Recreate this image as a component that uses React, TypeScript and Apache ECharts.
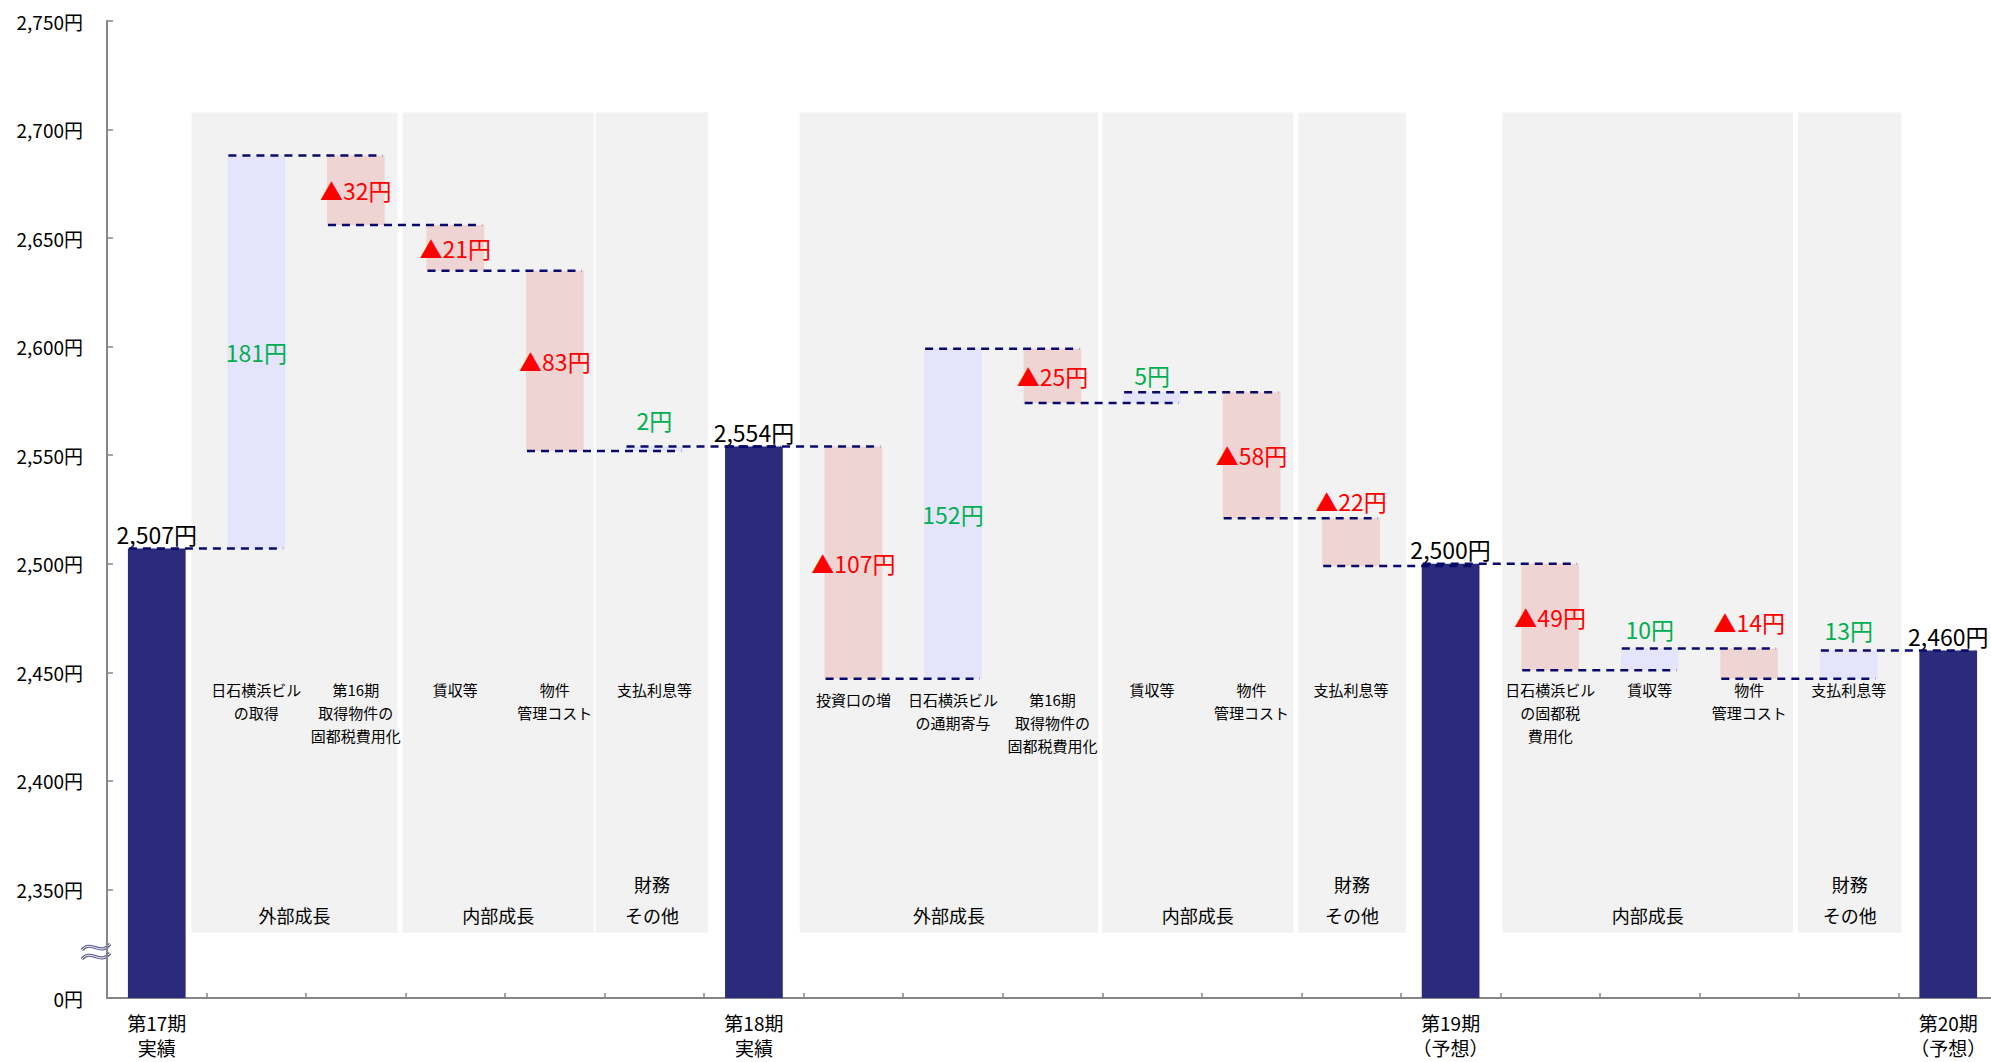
import React, { useEffect, useRef } from 'react';
import * as echarts from 'echarts';

// ---- data -------------------------------------------------------------
const categories = [
  '第17期\n実績', '', '', '', '', '',
  '第18期\n実績', '', '', '', '', '', '',
  '第19期\n（予想）', '', '', '', '',
  '第20期\n（予想）',
];

const itemNames = [
  '', '日石横浜ビル\nの取得', '第16期\n取得物件の\n固都税費用化', '賃収等', '物件\n管理コスト', '支払利息等',
  '', '投資口の増', '日石横浜ビル\nの通期寄与', '第16期\n取得物件の\n固都税費用化', '賃収等', '物件\n管理コスト', '支払利息等',
  '', '日石横浜ビル\nの固都税\n費用化', '賃収等', '物件\n管理コスト', '支払利息等',
  '',
];

// distribution per unit (period totals)
const totals: (number | null)[] = [
  2507, null, null, null, null, null,
  2554, null, null, null, null, null, null,
  2500, null, null, null, null,
  2460,
];

// change factors between periods (negative = decrease)
const deltas: (number | null)[] = [
  null, 181, -32, -21, -83, 2,
  null, -107, 152, -25, 5, -58, -22,
  null, -49, 10, -14, 13,
  null,
];

const groupNames = ['外部成長', '内部成長', '財務\nその他', '外部成長', '内部成長', '財務\nその他', '内部成長', '財務\nその他'];
const groupFirst = [1, 3, 5, 7, 10, 12, 14, 17];
const groupLast = [2, 4, 5, 9, 11, 12, 16, 17];

// axis: the lowest tick stands for 0円 (broken axis)
const AXIS_MIN = 2300;
const AXIS_MAX = 2750;
const AXIS_STEP = 50;

// ---- layout / style ---------------------------------------------------
const FONT = '"Noto Sans CJK JP", "Noto Sans", sans-serif';
const BAR_FRACTION = 0.58;
const panelStartOffset = [-0.15, -0.03, -0.09, -0.04, 0.0, -0.03, 0.02, -0.01];
const panelEndOffset = [-0.08, -0.11, 0.04, -0.04, -0.08, 0.05, -0.06, 0.03];
const PANEL_TOP_LEVEL = 2707.8;
const PANEL_BOTTOM_LEVEL = 2330;
const NAME_TOP_PX = 678;
const NAME_TOP_PX_LOW = 688;
// label placement per column: 0 = inside the bar, otherwise distance above it
const labelGap = [0, 0, 0, 0, 0, 15, 0, 0, 0, 0, 6, 0, 6, 0, 0, 8, 15, 9, 0];

const C_TOTAL = '#2B2A7B';
const C_RISE = '#E4E4FC';
const C_FALL = '#EFD4D4';
const C_PANEL = '#F2F2F2';
const C_DASH = '#0A0A6A';
const C_AXIS = '#868686';

// ---- derived waterfall geometry ---------------------------------------
const bases: (number | null)[] = [];
const levels: number[] = [];
{
  let level = 0;
  for (let i = 0; i < categories.length; i++) {
    const t = totals[i];
    if (t != null) {
      level = t;
      bases.push(null);
    } else {
      const d = deltas[i] as number;
      bases.push(Math.min(level, level + d));
      level += d;
    }
    levels.push(level);
  }
}

function deltaLabel(d: number, i: number) {
  const gap = labelGap[i];
  return {
    show: true,
    position: gap ? 'top' : 'inside',
    distance: gap || 5,
    formatter: d >= 0 ? `${d}円` : `▲${-d}円`,
    color: d >= 0 ? '#00B050' : '#FF0000',
    fontSize: 23,
    fontFamily: FONT,
    textBorderWidth: 0,
  };
}

const baseData = bases.map((b) => (b == null ? '-' : b));
const riseData = deltas.map((d, i) =>
  d != null && d > 0 ? { value: d, label: deltaLabel(d, i) } : '-'
);
const fallData = deltas.map((d, i) =>
  d != null && d < 0 ? { value: -d, label: deltaLabel(d, i) } : '-'
);
const totalData = totals.map((t) => (t == null ? '-' : t));

const connectorData = levels.slice(0, levels.length - 1).map((lv, i) => [i, lv]);
const panelData = groupFirst.map((f, i) => [f, groupLast[i], PANEL_TOP_LEVEL]);
const nameData = itemNames
  .map((n, i) => (n ? [i, AXIS_MIN] : null))
  .filter((v) => v != null) as number[][];

export default function App() {
  const ref = useRef<HTMLDivElement | null>(null);

  useEffect(() => {
    if (!ref.current) return;
    const chart = echarts.init(ref.current, undefined, { renderer: 'svg' });

    const option: any = {
      animation: false,
      textStyle: { fontFamily: FONT },
      grid: {
        left: 107,
        width: 1891,
        top: 21,
        bottom: 64,
        containLabel: false,
        outerBoundsMode: 'none',
      },
      xAxis: {
        type: 'category',
        data: categories,
        axisLine: { lineStyle: { color: C_AXIS, width: 2 } },
        axisTick: { show: true, inside: true, length: 5, interval: 0, lineStyle: { color: C_AXIS, width: 1.5 } },
        axisLabel: { interval: 0, fontSize: 19, lineHeight: 25, margin: 12, color: '#000', fontFamily: FONT },
      },
      yAxis: {
        type: 'value',
        min: AXIS_MIN,
        max: AXIS_MAX,
        interval: AXIS_STEP,
        splitLine: { show: false },
        axisLine: { show: true, lineStyle: { color: C_AXIS, width: 2 } },
        axisTick: { show: true, inside: true, length: 6, lineStyle: { color: C_AXIS, width: 1.5 } },
        axisLabel: {
          fontSize: 19,
          margin: 24,
          color: '#000',
          fontFamily: FONT,
          formatter: (v: number) => (v === AXIS_MIN ? '0円' : `${v.toLocaleString('en-US')}円`),
        },
      },
      graphic: [
        {
          type: 'group',
          z: 100,
          children: [0, 9].flatMap((dy) => [
            {
              type: 'bezierCurve',
              shape: { x1: 82, y1: 950 + dy, cpx1: 91, cpy1: 939 + dy, cpx2: 100, cpy2: 957 + dy, x2: 110, y2: 944 + dy },
              style: { stroke: '#5A5A92', lineWidth: 3.2, fill: null },
            },
            {
              type: 'bezierCurve',
              shape: { x1: 82, y1: 950 + dy, cpx1: 91, cpy1: 939 + dy, cpx2: 100, cpy2: 957 + dy, x2: 110, y2: 944 + dy },
              style: { stroke: '#FFFFFF', lineWidth: 1, fill: null },
            },
          ]),
        },
      ],
      series: [
        {
          type: 'custom',
          name: 'panels',
          z: 0,
          silent: true,
          data: panelData,
          encode: { x: [0, 1], y: 2 },
          renderItem: (params: any, api: any) => {
            const i = params.dataIndex;
            const band = api.size([1, 0])[0];
            const x0 = api.coord([api.value(0), PANEL_TOP_LEVEL])[0] - band / 2 + panelStartOffset[i] * band;
            const x1 = api.coord([api.value(1), PANEL_TOP_LEVEL])[0] + band / 2 + panelEndOffset[i] * band;
            const top = api.coord([0, PANEL_TOP_LEVEL])[1];
            const bottom = api.coord([0, PANEL_BOTTOM_LEVEL])[1];
            return {
              type: 'group',
              children: [
                {
                  type: 'rect',
                  shape: { x: x0, y: top, width: x1 - x0, height: bottom - top },
                  style: { fill: C_PANEL },
                },
                {
                  type: 'text',
                  x: (x0 + x1) / 2,
                  y: bottom - 2.5,
                  style: {
                    text: groupNames[i],
                    fill: '#000',
                    fontSize: 18,
                    fontFamily: FONT,
                    lineHeight: 31,
                    align: 'center',
                    verticalAlign: 'bottom',
                  },
                },
              ],
            };
          },
        },
        {
          type: 'bar',
          name: 'base',
          stack: 'w',
          barWidth: `${BAR_FRACTION * 100}%`,
          silent: true,
          itemStyle: { color: 'rgba(0,0,0,0)' },
          data: baseData,
        },
        {
          type: 'bar',
          name: 'rise',
          stack: 'w',
          barWidth: `${BAR_FRACTION * 100}%`,
          itemStyle: { color: C_RISE },
          data: riseData,
        },
        {
          type: 'bar',
          name: 'fall',
          stack: 'w',
          barWidth: `${BAR_FRACTION * 100}%`,
          itemStyle: { color: C_FALL },
          data: fallData,
        },
        {
          type: 'bar',
          name: 'total',
          stack: 'w',
          barWidth: `${BAR_FRACTION * 100}%`,
          itemStyle: { color: C_TOTAL },
          label: {
            show: true,
            position: 'top',
            distance: 3,
            color: '#000',
            fontSize: 23,
            fontFamily: FONT,
            formatter: (p: any) => `${Number(p.value).toLocaleString('en-US')}円`,
          },
          data: totalData,
        },
        {
          type: 'custom',
          name: 'connectors',
          z: 5,
          silent: true,
          data: connectorData,
          encode: { x: 0, y: 1 },
          renderItem: (params: any, api: any) => {
            const p = api.coord([api.value(0), api.value(1)]);
            const band = api.size([1, 0])[0];
            const half = (band * BAR_FRACTION) / 2;
            return {
              type: 'line',
              shape: { x1: p[0] - half + 1, y1: p[1], x2: p[0] + band + half - 2, y2: p[1] },
              style: { stroke: C_DASH, lineWidth: 2.5, lineDash: [8, 6] },
            };
          },
        },
        {
          type: 'custom',
          name: 'names',
          z: 5,
          silent: true,
          data: nameData,
          encode: { x: 0, y: 1 },
          renderItem: (params: any, api: any) => {
            const idx = api.value(0);
            const p = api.coord([idx, api.value(1)]);
            const low = idx >= 7 && idx <= 9;
            return {
              type: 'text',
              x: p[0],
              y: low ? NAME_TOP_PX_LOW : NAME_TOP_PX,
              style: {
                text: itemNames[idx],
                fill: '#000',
                fontSize: 15,
                fontFamily: FONT,
                lineHeight: 23,
                align: 'center',
                verticalAlign: 'top',
              },
            };
          },
        },
      ],
    };

    chart.setOption(option);
    return () => chart.dispose();
  }, []);

  return (
    <div
      ref={ref}
      style={{ position: 'absolute', left: 0, top: 0, width: '1991px', height: '1062px', background: '#fff' }}
    />
  );
}
